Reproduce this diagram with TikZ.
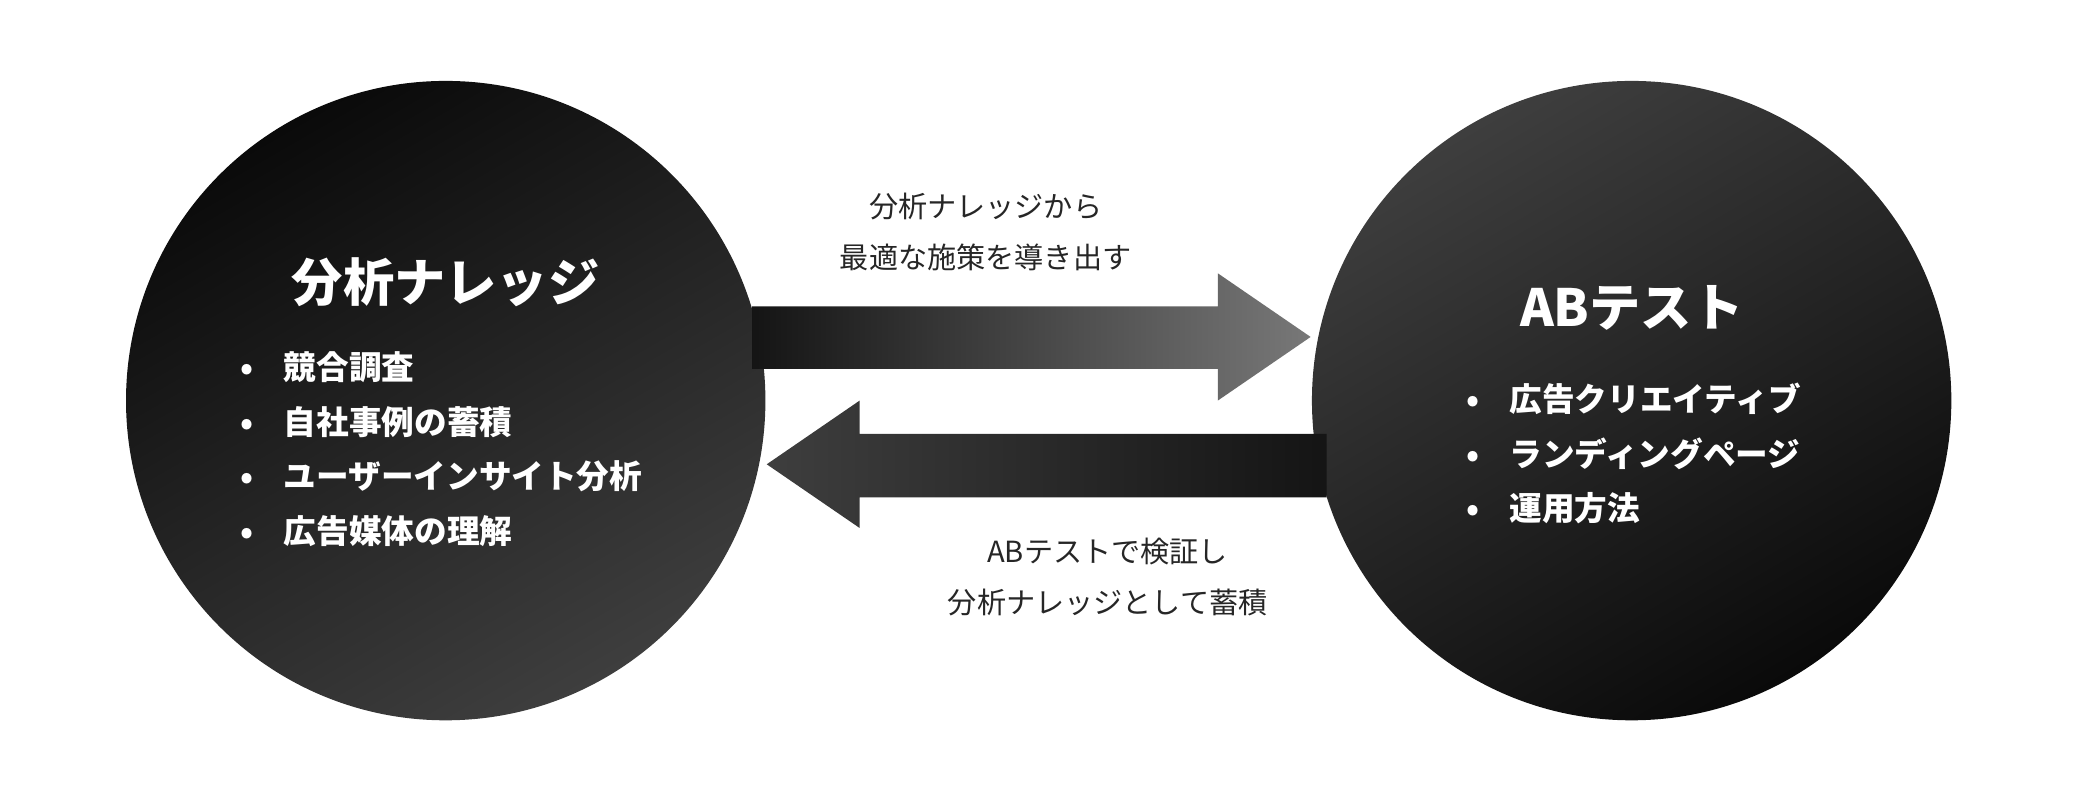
\documentclass[tikz,border=0pt]{standalone}
\usepackage{fontspec}
\setmainfont{Noto Sans CJK JP}
\usetikzlibrary{positioning}
\definecolor{cDark}{RGB}{10,10,10}
\definecolor{cLight}{RGB}{62,62,62}
\begin{document}
\begin{tikzpicture}[x=0.02cm, y=-0.02cm]

% Stiler.
\tikzset{
  title/.style={font=\bfseries\fontsize{22}{26}\selectfont, text=white},
  item/.style={font=\bfseries\fontsize{14}{17}\selectfont, text=white, anchor=west, inner sep=0pt},
  note/.style={font=\fontsize{12.5}{22}\selectfont, text=black!85, align=center}
}

\useasboundingbox (0,0) rectangle (1568,612);

% Sirkler.
\shade[top color=cDark, bottom color=cLight, shading angle=30] (336,302) circle (241);
\shade[top color=cLight, bottom color=cDark, shading angle=30] (1230,302) circle (241);

% Piler.
\shade[left color=cDark!80!cLight, right color=cLight!70] (567,231) -- (918,231) -- (918,206) -- (988,254) -- (918,302) -- (918,278) -- (567,278) -- cycle;
\shade[left color=cLight, right color=cDark!80!cLight] (1000,327) -- (648,327) -- (648,302) -- (578,350) -- (648,398) -- (648,375) -- (1000,375) -- cycle;

% Venstre.
\node (left) [title] at (336,213) {分析ナレッジ};
\foreach \t [count=\i] in {競合調査, 自社事例の蓄積, ユーザーインサイト分析, 広告媒体の理解}{
  \node (l\i) [item] at (181,236+41*\i) {•\hspace{13pt}\t};
}

% Høyre.
\node (right) [title] at (1230,232) {ABテスト};
\foreach \t [count=\i] in {広告クリエイティブ, ランディングページ, 運用方法}{
  \node (r\i) [item] at (1105,260+41*\i) {•\hspace{13pt}\t};
}

% Tekst ved pilene.
\node (top) [note] at (743,175) {分析ナレッジから\\最適な施策を導き出す};
\node (bottom) [note] at (835,435) {ABテストで検証し\\分析ナレッジとして蓄積};
\end{tikzpicture}
\end{document}
